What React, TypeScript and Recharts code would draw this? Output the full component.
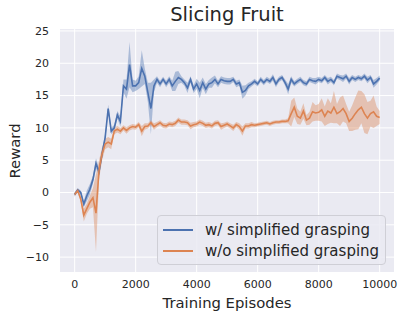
import React from 'react';
import {
  ComposedChart, Line, Area, XAxis, YAxis, CartesianGrid, Legend
} from 'recharts';

// training episodes (x values)
const episodes = [
  0, 100, 200, 300, 400, 500, 600, 700, 800, 900,
  1000, 1100, 1200, 1300, 1400, 1500, 1600, 1700, 1800, 1900,
  2000, 2100, 2200, 2300, 2400, 2500, 2600, 2700, 2800, 2900,
  3000, 3100, 3200, 3300, 3400, 3500, 3600, 3700, 3800, 3900,
  4000, 4100, 4200, 4300, 4400, 4500, 4600, 4700, 4800, 4900,
  5000, 5100, 5200, 5300, 5400, 5500, 5600, 5700, 5800, 5900,
  6000, 6100, 6200, 6300, 6400, 6500, 6600, 6700, 6800, 6900,
  7000, 7100, 7200, 7300, 7400, 7500, 7600, 7700, 7800, 7900,
  8000, 8100, 8200, 8300, 8400, 8500, 8600, 8700, 8800, 8900,
  9000, 9100, 9200, 9300, 9400, 9500, 9600, 9700, 9800, 9900,
  10000,
];

// w/ simplified grasping
const withMean = [
  -0.3, 0.4, 0, -1.8, -0.5, 0.5, 2, 4.5, 3.2, 6,
  8.5, 13, 9.5, 10, 12, 11, 16.5, 16, 19.8, 16.5,
  16.5, 17, 19.2, 18, 15.5, 13, 16.5, 17.5, 16.8, 17.5,
  16.8, 17.5, 16.5, 17.2, 17.8, 17.5, 17, 16.2, 17.5, 16,
  16.8, 15.8, 17, 16, 16.8, 17, 17.5, 16.8, 17.5, 17.3,
  17.2, 17.2, 17.5, 16.8, 17, 15.5, 15.8, 16.5, 16.8, 17.2,
  16.8, 17.5, 17, 17.5, 17.2, 17.8, 16.8, 17.5, 17.8, 17,
  16, 17.5, 16.8, 17.2, 17.5, 17, 16.8, 17.5, 17.3, 17.2,
  17.5, 17.3, 17.8, 17.2, 17.5, 17, 18, 17.8, 17.6, 18,
  17.2, 17.8, 17.5, 17.8, 17.6, 18, 17.4, 17.8, 16.8, 17.2,
  17.7,
];
const withSpread = [
  0.3, 0.3, 0.3, 0.5, 0.8, 0.8, 0.6, 0.8, 0.6, 0.6,
  0.5, 0.6, 0.5, 0.5, 0.6, 0.8, 1, 1.5, 3.5, 1,
  0.8, 1, 2.8, 1.2, 1.5, 4, 1, 0.5, 0.5, 0.4,
  0.5, 0.5, 0.8, 1.5, 1, 0.5, 0.5, 0.8, 0.5, 0.6,
  0.8, 1.2, 0.8, 0.8, 0.6, 0.8, 0.6, 0.5, 0.5, 0.5,
  0.5, 0.5, 0.4, 0.5, 0.5, 1, 0.8, 0.5, 0.4, 0.4,
  0.4, 0.4, 0.4, 0.4, 0.4, 0.5, 0.5, 0.4, 0.4, 0.5,
  0.8, 0.5, 0.4, 0.4, 0.4, 0.4, 0.4, 0.4, 0.4, 0.5,
  0.4, 0.4, 0.4, 0.5, 0.4, 0.4, 0.4, 0.4, 0.5, 0.4,
  0.5, 0.4, 0.4, 0.4, 0.4, 0.4, 0.5, 0.4, 0.6, 0.5,
  0.4,
];

// w/o simplified grasping
const withoutMean = [
  -0.3, 0.3, -1, -3.5, -2.5, -1.5, -0.8, -3.2, 3.5, 6,
  7.5, 7.8, 7.5, 9.5, 9.8, 9.5, 10, 9.6, 10, 10.2,
  10.1, 10.5, 9.5, 10.2, 10.3, 10.8, 10.2, 10.5, 10.8, 10.4,
  10.3, 10.6, 10.5, 10.7, 11.2, 10.9, 10.9, 10.8, 10.3, 10.5,
  10.6, 10.9, 10.7, 10.4, 10.5, 10.3, 10.7, 10.8, 10.2, 10.4,
  10.6, 10.3, 10, 10.5, 10.2, 9.5, 10.3, 10.3, 10.5, 10.4,
  10.5, 10.6, 10.7, 10.8, 10.6, 10.8, 10.9, 10.9, 11, 11,
  11.1, 12.2, 13.2, 11.8, 11.5, 12.6, 11.2, 11.5, 12.5, 12.3,
  12.4, 12.8, 11.8, 12.6, 12.3, 13.2, 12.2, 12.5, 13, 12.2,
  11, 11.5, 12.2, 12.8, 13.2, 12.2, 11.5, 12.2, 12.5, 11.8,
  11.6,
];
const withoutSpread = [
  0.3, 0.3, 0.5, 1, 0.8, 1, 1.5, 6, 1.5, 1,
  0.8, 0.8, 0.8, 0.5, 0.5, 0.5, 0.4, 0.5, 0.4, 0.4,
  0.4, 0.4, 0.8, 0.5, 0.4, 0.4, 0.5, 0.4, 0.4, 0.4,
  0.4, 0.4, 0.4, 0.4, 0.4, 0.4, 0.4, 0.4, 0.5, 0.4,
  0.4, 0.4, 0.4, 0.4, 0.4, 0.4, 0.4, 0.4, 0.5, 0.4,
  0.4, 0.4, 0.5, 0.4, 0.5, 0.7, 0.4, 0.4, 0.4, 0.3,
  0.3, 0.3, 0.3, 0.3, 0.3, 0.3, 0.3, 0.3, 0.3, 0.3,
  0.4, 2, 1.5, 1.2, 1, 1.2, 0.8, 1, 1.5, 1.2,
  1.3, 1.8, 1.5, 2, 1.5, 2.5, 1.5, 2.2, 2, 1.5,
  1.5, 2, 2.5, 3, 2.5, 3, 2.5, 2, 2.5, 1.5,
  1,
];

const xTicks = [0, 2000, 4000, 6000, 8000, 10000];
const yTicks = [-10, -5, 0, 5, 10, 15, 20, 25];

const BLUE = '#4C72B0';
const ORANGE = '#DD8452';
const TEXT = '#262626';

const data = episodes.map((ep, i) => ({
  ep,
  withMean: withMean[i],
  withBand: [withMean[i] - withSpread[i], withMean[i] + withSpread[i]],
  withoutMean: withoutMean[i],
  withoutBand: [withoutMean[i] - withoutSpread[i], withoutMean[i] + withoutSpread[i]],
}));

const legendItems = [
  { label: 'w/ simplified grasping', color: BLUE },
  { label: 'w/o simplified grasping', color: ORANGE },
];

const LegendBox = () => (
  <div style={{
    width: 229, height: 50, boxSizing: 'border-box', background: 'rgba(234,234,242,0.85)',
    border: '1px solid #CFCFD6', borderRadius: 4, padding: '3px 0 0 5px',
  }}>
    {legendItems.map((it) => (
      <div key={it.label} style={{ display: 'flex', alignItems: 'center', height: 21 }}>
        <div style={{ width: 30, height: 2, background: it.color, marginRight: 12 }} />
        <span style={{ fontSize: 15, color: TEXT, whiteSpace: 'nowrap' }}>{it.label}</span>
      </div>
    ))}
  </div>
);

const App: React.FC = () => {
  return (
    <div style={{
      position: 'absolute', left: 0, top: 0, width: 404, height: 318,
      background: '#fff', fontFamily: '"DejaVu Sans", sans-serif',
    }}>
      <div style={{ position: 'absolute', left: 0, top: 3, width: 454, textAlign: 'center', fontSize: 19.5, color: TEXT }}>
        Slicing Fruit
      </div>
      <div style={{
        position: 'absolute', left: 14, top: 151, transform: 'translate(-50%, -50%) rotate(-90deg)',
        fontSize: 14.8, color: TEXT, whiteSpace: 'nowrap',
      }}>
        Reward
      </div>
      <div style={{ position: 'absolute', left: 60, top: 294, width: 334, textAlign: 'center', fontSize: 14.8, color: TEXT }}>
        Training Episodes
      </div>
      <ComposedChart width={404} height={318} data={data} margin={{ top: 29, right: 10, left: 0, bottom: 0 }}>
        <CartesianGrid fill="#EAEAF2" stroke="#ffffff" strokeWidth={1} horizontalValues={yTicks} verticalValues={xTicks} />
        <XAxis
          dataKey="ep" type="number" domain={[-480, 10470]} ticks={xTicks} allowDataOverflow
          axisLine={false} tickLine={false} height={46} tickMargin={2}
          tick={{ fontSize: 11, fill: TEXT, fontFamily: '"DejaVu Sans"' }}
        />
        <YAxis
          type="number" domain={[-12.3, 25.3]} ticks={yTicks} allowDataOverflow
          axisLine={false} tickLine={false} width={60} tickMargin={5}
          tick={{ fontSize: 11, fill: TEXT, fontFamily: '"DejaVu Sans"' }}
          tickFormatter={(v: number) => (v < 0 ? `\u2212${Math.abs(v)}` : `${v}`)}
        />
        <Area dataKey="withBand" type="linear" stroke="none" fill={BLUE} fillOpacity={0.4} isAnimationActive={false} />
        <Area dataKey="withoutBand" type="linear" stroke="none" fill={ORANGE} fillOpacity={0.4} isAnimationActive={false} />
        <Line dataKey="withMean" type="linear" stroke={BLUE} strokeWidth={1.6} dot={false} isAnimationActive={false} />
        <Line dataKey="withoutMean" type="linear" stroke={ORANGE} strokeWidth={1.6} dot={false} isAnimationActive={false} />
        <Legend
          layout="horizontal" verticalAlign="middle" align="center"
          wrapperStyle={{ left: 157, top: 215, width: 229, height: 50 }}
          content={() => <LegendBox />}
        />
      </ComposedChart>
    </div>
  );
};

export default App;
